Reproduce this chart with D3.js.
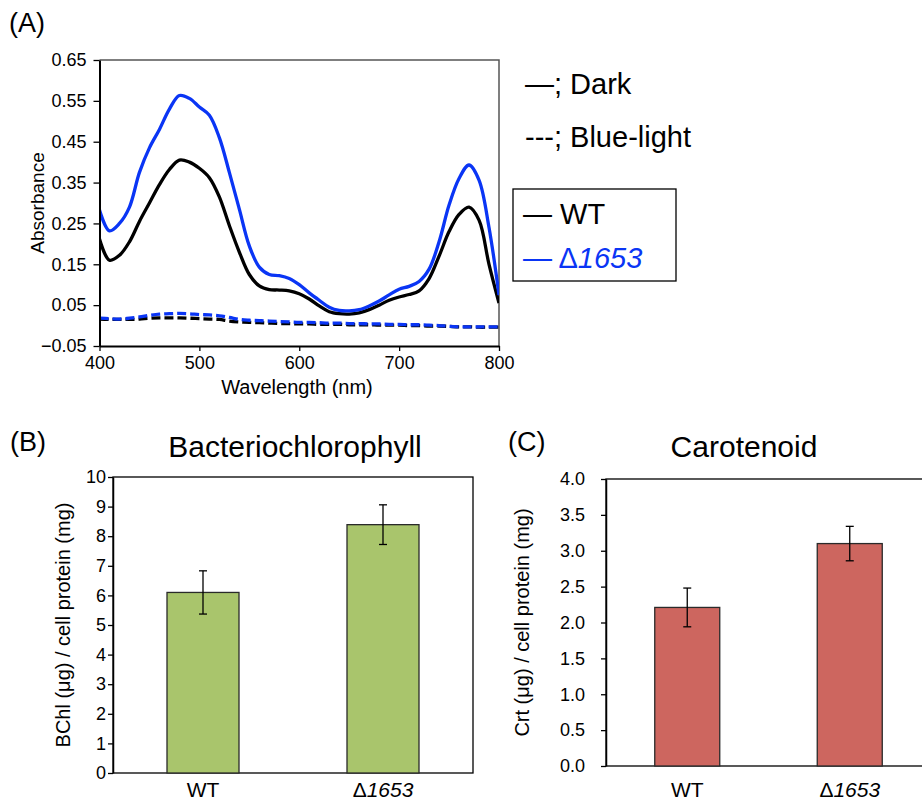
<!DOCTYPE html>
<html>
<head>
<meta charset="utf-8">
<script src="https://cdn.jsdelivr.net/npm/d3@7/dist/d3.min.js"></script>
<style>
body { margin: 0; background: #fff; }
svg text { font-family: "Liberation Sans", Arial, sans-serif; fill: #000; }
</style>
</head>
<body>
<div id="wrapper"></div>
<script>
// (A) absorbance spectra, every 10 nm
const wavelengths = [400, 410, 420, 430, 440, 450, 460, 470, 480, 490, 500, 510, 520, 530, 540, 550, 560, 570, 580, 590,
                     600, 610, 620, 630, 640, 650, 660, 670, 680, 690, 700, 710, 720, 730, 740, 750, 760, 770, 780, 790, 800];
const wtDark = [0.212, 0.160, 0.172, 0.205, 0.255, 0.300, 0.345, 0.382, 0.405, 0.400, 0.385, 0.362, 0.315, 0.245, 0.180,
                0.125, 0.097, 0.088, 0.087, 0.085, 0.078, 0.065, 0.048, 0.034, 0.029, 0.028, 0.031, 0.039, 0.050, 0.062,
                0.070, 0.076, 0.085, 0.115, 0.170, 0.230, 0.272, 0.290, 0.258, 0.150, 0.055];
const mutDark = [0.283, 0.232, 0.250, 0.290, 0.375, 0.435, 0.480, 0.530, 0.563, 0.556, 0.535, 0.515, 0.460, 0.375, 0.285,
                 0.195, 0.143, 0.125, 0.122, 0.115, 0.100, 0.080, 0.062, 0.045, 0.037, 0.036, 0.039, 0.048, 0.060, 0.075,
                 0.089, 0.096, 0.108, 0.138, 0.205, 0.295, 0.360, 0.393, 0.356, 0.240, 0.075];
const wtBlue = [0.016, 0.015, 0.015, 0.015, 0.016, 0.018, 0.019, 0.019, 0.019, 0.018, 0.017, 0.016, 0.015, 0.011, 0.009,
                0.008, 0.007, 0.006, 0.005, 0.005, 0.004, 0.004, 0.003, 0.003, 0.003, 0.002, 0.002, 0.002, 0.001, 0.001,
                0.001, 0.000, 0.000, -0.001, -0.001, -0.002, -0.003, -0.003, -0.004, -0.004, -0.004];
const mutBlue = [0.018, 0.017, 0.016, 0.018, 0.021, 0.025, 0.028, 0.029, 0.030, 0.029, 0.027, 0.026, 0.024, 0.020, 0.015,
                 0.013, 0.012, 0.011, 0.010, 0.009, 0.008, 0.008, 0.007, 0.006, 0.006, 0.005, 0.005, 0.004, 0.004, 0.003,
                 0.003, 0.002, 0.002, 0.001, 0.000, -0.002, -0.003, -0.003, -0.003, -0.003, -0.003];
const absTicks = [-0.05, 0.05, 0.15, 0.25, 0.35, 0.45, 0.55, 0.65];
const wlTicks = [400, 500, 600, 700, 800];

// (B) and (C) pigment contents
const strains = ["WT", "Δ1653"];
const bchlMean = [6.10, 8.39];
const bchlErr = [0.73, 0.67];
const crtMean = [2.21, 3.10];
const crtErr = [0.27, 0.24];
const bchlTicks = [0, 1, 2, 3, 4, 5, 6, 7, 8, 9, 10];
const crtTicks = [0, 0.5, 1, 1.5, 2, 2.5, 3, 3.5, 4];

const blue = "#0a35f5";

const svg = d3.select("#wrapper")
    .append("svg")
    .attr("width", 922)
    .attr("height", 801);

function strainLabel(sel, name) {
    if (name.startsWith("Δ")) {
        sel.append("tspan").text("Δ");
        sel.append("tspan").style("font-style", "italic").text(name.slice(1));
    } else {
        sel.text(name);
    }
}

function styleAxis(g, width) {
    g.select(".domain").attr("stroke", "#000").attr("stroke-width", width);
    g.selectAll(".tick line").attr("stroke", "#000").attr("stroke-width", 1.3);
    g.selectAll(".tick text").style("font-size", "18px").attr("fill", "#000");
}

// ---------- (A) ----------
const A = { left: 99.5, right: 499, top: 60, bottom: 346 };
const xA = d3.scaleLinear().domain([400, 800]).range([A.left, A.right]);
const yA = d3.scaleLinear().domain([-0.05, 0.65]).range([A.bottom, A.top]);

svg.append("text").attr("x", 9).attr("y", 32).style("font-size", "27px").text("(A)");

svg.append("defs").append("clipPath").attr("id", "clipA")
    .append("rect")
    .attr("x", A.left).attr("y", A.top - 5)
    .attr("width", A.right - A.left).attr("height", A.bottom - A.top + 5);

// frame (top and right)
svg.append("path")
    .attr("d", `M${A.left},${A.top}H${A.right}V${A.bottom}`)
    .attr("fill", "none").attr("stroke", "#555").attr("stroke-width", 1.5);

const spectra = [
    { values: wtBlue, color: "#000", dash: "9,4" },
    { values: mutBlue, color: blue, dash: "9,4" },
    { values: wtDark, color: "#000", dash: null },
    { values: mutDark, color: blue, dash: null }
];

const line = d3.line()
    .x(d => xA(d[0]))
    .y(d => yA(d[1]))
    .curve(d3.curveCatmullRom);

svg.append("g").attr("clip-path", "url(#clipA)")
    .selectAll("path")
    .data(spectra)
    .enter()
    .append("path")
    .attr("d", d => line(wavelengths.map((w, i) => [w, d.values[i]])))
    .attr("fill", "none")
    .attr("stroke", d => d.color)
    .attr("stroke-width", 3.3)
    .attr("stroke-dasharray", d => d.dash);

const axAy = svg.append("g")
    .attr("transform", `translate(${A.left},0)`)
    .call(d3.axisLeft(yA).tickValues(absTicks).tickFormat(d3.format(".2f")).tickSize(6).tickSizeOuter(0).tickPadding(7));
styleAxis(axAy, 2);

const axAx = svg.append("g")
    .attr("transform", `translate(0,${A.bottom})`)
    .call(d3.axisBottom(xA).tickValues(wlTicks).tickFormat(d3.format("d")).tickSize(5).tickSizeOuter(0).tickPadding(5));
styleAxis(axAx, 2);

svg.append("text")
    .attr("transform", `translate(44,${(A.top + A.bottom) / 2}) rotate(-90)`)
    .attr("text-anchor", "middle")
    .style("font-size", "19px")
    .text("Absorbance");

svg.append("text")
    .attr("x", 297).attr("y", 394)
    .attr("text-anchor", "middle")
    .style("font-size", "20px")
    .text("Wavelength (nm)");

// legend
svg.append("text").attr("x", 525).attr("y", 94).style("font-size", "29px").text("—; Dark");
svg.append("text").attr("x", 525).attr("y", 147).style("font-size", "29px").text("---; Blue-light");

svg.append("rect")
    .attr("x", 513).attr("y", 189).attr("width", 163).attr("height", 92)
    .attr("fill", "none").attr("stroke", "#000").attr("stroke-width", 1.3);
svg.append("text").attr("x", 523).attr("y", 224).style("font-size", "29px").text("— WT");
const legMut = svg.append("text").attr("x", 523).attr("y", 268).style("font-size", "29px").attr("fill", blue);
legMut.append("tspan").attr("fill", blue).text("— Δ");
legMut.append("tspan").attr("fill", blue).style("font-style", "italic").text("1653");

// ---------- (B) and (C) ----------
function drawBars(cfg) {
    const x = d3.scaleBand().domain(strains).range([cfg.left, cfg.right]).paddingInner(0.6).paddingOuter(0.3);
    const y = d3.scaleLinear().domain(cfg.domain).range([cfg.bottom, cfg.top]);

    svg.append("text").attr("x", cfg.tagX).attr("y", 451).style("font-size", "27px").text(cfg.tag);
    svg.append("text").attr("x", cfg.titleX).attr("y", 457)
        .attr("text-anchor", "middle").style("font-size", "30px").text(cfg.title);

    svg.append("rect")
        .attr("x", cfg.left).attr("y", cfg.top)
        .attr("width", cfg.right - cfg.left).attr("height", cfg.bottom - cfg.top)
        .attr("fill", "none").attr("stroke", "#000").attr("stroke-width", 1.3);

    const bars = strains.map((s, i) => ({ name: s, mean: cfg.mean[i], err: cfg.err[i] }));

    svg.append("g")
        .selectAll("rect")
        .data(bars)
        .enter()
        .append("rect")
        .attr("x", d => x(d.name))
        .attr("y", d => y(d.mean))
        .attr("width", x.bandwidth())
        .attr("height", d => y(0) - y(d.mean))
        .attr("fill", cfg.color)
        .attr("stroke", "#2a2a2a")
        .attr("stroke-width", 1.3);

    const eb = svg.append("g").attr("stroke", "#000").attr("stroke-width", 1.3);
    bars.forEach(d => {
        const cx = x(d.name) + x.bandwidth() / 2;
        eb.append("line").attr("x1", cx).attr("x2", cx).attr("y1", y(d.mean + d.err)).attr("y2", y(d.mean - d.err));
        eb.append("line").attr("x1", cx - 4).attr("x2", cx + 4).attr("y1", y(d.mean + d.err)).attr("y2", y(d.mean + d.err));
        eb.append("line").attr("x1", cx - 4).attr("x2", cx + 4).attr("y1", y(d.mean - d.err)).attr("y2", y(d.mean - d.err));
    });

    const ay = svg.append("g")
        .attr("transform", `translate(${cfg.left},0)`)
        .call(d3.axisLeft(y).tickValues(cfg.ticks).tickFormat(d3.format(cfg.fmt)).tickSize(5).tickSizeOuter(0).tickPadding(cfg.pad));
    styleAxis(ay, 1.5);

    svg.append("g")
        .selectAll("text")
        .data(strains)
        .enter()
        .append("text")
        .attr("x", d => x(d) + x.bandwidth() / 2)
        .attr("y", 797)
        .attr("text-anchor", "middle")
        .style("font-size", "21px")
        .each(function(d) { strainLabel(d3.select(this), d); });

    svg.append("text")
        .attr("transform", `translate(${cfg.ytitleX},${(cfg.top + cfg.bottom) / 2}) rotate(-90)`)
        .attr("text-anchor", "middle")
        .style("font-size", "20px")
        .text(cfg.ytitle);
}

drawBars({
    left: 113, right: 473, top: 477, bottom: 773,
    domain: [0, 10], ticks: bchlTicks, fmt: "d", pad: 2,
    mean: bchlMean, err: bchlErr, color: "#a9c56c",
    tag: "(B)", tagX: 10, title: "Bacteriochlorophyll", titleX: 295,
    ytitle: "BChl (μg) / cell protein (mg)", ytitleX: 70
});

drawBars({
    left: 606, right: 931, top: 479, bottom: 766,
    domain: [0, 4], ticks: crtTicks, fmt: ".1f", pad: 16,
    mean: crtMean, err: crtErr, color: "#cd665f",
    tag: "(C)", tagX: 508, title: "Carotenoid", titleX: 744,
    ytitle: "Crt (μg) / cell protein (mg)", ytitleX: 529
});
</script>
</body>
</html>
